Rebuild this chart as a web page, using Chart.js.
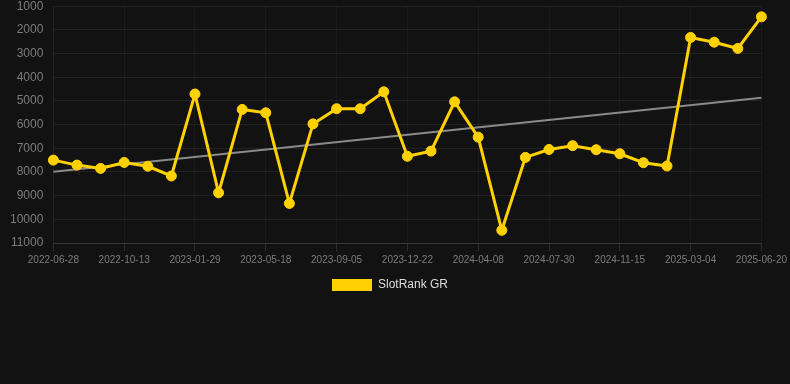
<!DOCTYPE html>
<html>
<head>
<meta charset="utf-8">
<script src="https://cdn.jsdelivr.net/npm/chart.js@4/dist/chart.umd.min.js"></script>
<style>
html,body{margin:0;padding:0;background:#121212;overflow:hidden;}
#wrap{width:790px;height:312px;position:relative;margin-top:-11px;}
</style>
</head>
<body>
<div id="wrap"><canvas id="c"></canvas></div>
<script>
const categories = [
 "2022-06-28","2022-08-03","2022-09-08","2022-10-13","2022-11-18","2022-12-24",
 "2023-01-29","2023-03-06","2023-04-11","2023-05-18","2023-06-23","2023-07-30",
 "2023-09-05","2023-10-11","2023-11-16","2023-12-22","2024-01-27","2024-03-03",
 "2024-04-08","2024-05-15","2024-06-22","2024-07-30","2024-09-05","2024-10-10",
 "2024-11-15","2024-12-21","2025-01-26","2025-03-04","2025-04-09","2025-05-15",
 "2025-06-20"
];
const slotRankGR = [
 7500,7710,7850,7600,7760,8170,
 4710,8880,5360,5500,9330,5970,
 5330,5330,4615,7340,7120,5040,
 6530,10465,7385,7050,6890,7060,
 7230,7610,7750,2320,2520,2785,
 1450
];
const trendStart = 7990;
const trendEnd = 4870;
const yTicks = [1000,2000,3000,4000,5000,6000,7000,8000,9000,10000,11000];

const trend = categories.map((_, i) => i === 0 ? trendStart : (i === categories.length - 1 ? trendEnd : null));

Chart.defaults.font.family = "'Liberation Sans', Arial, Helvetica, sans-serif";

new Chart(document.getElementById('c'), {
  type: 'line',
  data: {
    labels: categories,
    datasets: [
      {
        label: 'SlotRank GR',
        data: slotRankGR,
        borderColor: '#ffd100',
        backgroundColor: '#ffd100',
        borderWidth: 3,
        pointRadius: 5,
        pointHoverRadius: 5,
        pointBackgroundColor: '#ffd100',
        pointBorderColor: '#ffd100',
        pointBorderWidth: 1,
        tension: 0,
        order: 1
      },
      {
        label: 'trend',
        data: trend,
        borderColor: '#8a8a8a',
        backgroundColor: '#8a8a8a',
        borderWidth: 2,
        pointRadius: 0,
        spanGaps: true,
        order: 2
      }
    ]
  },
  options: {
    responsive: true,
    maintainAspectRatio: false,
    animation: false,
    layout: { padding: { left: 0, right: 10, top: 0, bottom: 0 } },
    plugins: {
      legend: {
        position: 'bottom',
        labels: {
          color: '#dddddd',
          boxWidth: 40,
          boxHeight: 12,
          font: { size: 12 },
          filter: (item) => item.text !== 'trend',
          generateLabels: (chart) => {
            const items = Chart.defaults.plugins.legend.labels.generateLabels(chart);
            items.forEach(it => { it.lineWidth = 0; it.strokeStyle = 'rgba(0,0,0,0)'; });
            return items;
          }
        }
      },
      tooltip: { enabled: false }
    },
    scales: {
      x: {
        grid: { color: 'rgba(255,255,255,0.04)', tickColor: 'rgba(255,255,255,0.12)' },
        border: { color: 'rgba(255,255,255,0.1)' },
        ticks: {
          color: '#7c7c7c',
          font: { size: 10 },
          autoSkip: false,
          maxRotation: 0,
          callback: function(v, i) { return i % 3 === 0 ? categories[i] : null; }
        }
      },
      y: {
        reverse: true,
        min: 1000,
        max: 11000,
        afterBuildTicks: (axis) => { axis.ticks = yTicks.map(v => ({ value: v })); },
        grid: { color: 'rgba(255,255,255,0.07)', drawTicks: false },
        border: { color: 'rgba(255,255,255,0.04)' },
        ticks: {
          color: '#7c7c7c',
          font: { size: 12 },
          padding: 10,
          callback: (v) => String(v)
        }
      }
    }
  }
});
</script>
</body>
</html>
